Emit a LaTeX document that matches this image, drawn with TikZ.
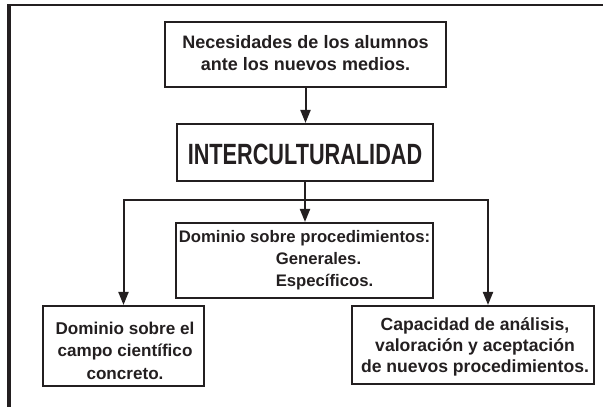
\documentclass[tikz,border=0pt]{standalone}
\usepackage{fontspec}
\usepackage{graphicx}
\setmainfont{Liberation Sans}
\usetikzlibrary{arrows.meta}
\definecolor{ink}{HTML}{231F20}
\begin{document}
\begin{tikzpicture}[x=1pt,y=-1pt,
  box/.style={draw=ink, line width=2.1pt, inner sep=0pt, text=ink},
  arr/.style={draw=ink, line width=2pt, -{Triangle[length=13pt,width=10pt]}},
  frame/.style={draw=ink}]
\useasboundingbox (0,0) rectangle (603,407);
\draw[frame, line width=2.3pt] (7,5.2) -- (603,5.2);
\draw[frame, line width=4pt] (9,4) -- (9,407);

\node[box, minimum width=281pt, text height=26pt, text depth=39pt] (top) at (305.5,54.5)
  {\bfseries\fontsize{18}{22}\selectfont\begin{tabular}[t]{@{}c@{}}Necesidades de los alumnos\\ante los nuevos medios.\end{tabular}};

\node[box, minimum width=256pt, text height=40pt, text depth=17pt] (inter) at (305,152.5)
  {\scalebox{0.74}[1]{\bfseries\fontsize{29.3}{30}\selectfont INTERCULTURALIDAD}};

\node[box, minimum width=257pt, text height=19pt, text depth=56pt] (mid) at (304.5,260.5)
  {\bfseries\fontsize{16.7}{22}\selectfont\begin{tabular}[t]{@{}l@{}}Dominio sobre procedimientos:\\\hspace*{97pt}Generales.\\\hspace*{97pt}Específicos.\end{tabular}};

\node[box, minimum width=161pt, text height=28pt, text depth=52pt] (left) at (123.5,346)
  {\bfseries\fontsize{17.1}{22.5}\selectfont\begin{tabular}[t]{@{\hspace{3pt}}c@{}}Dominio sobre el\\campo científico\\concreto.\end{tabular}};

\node[box, minimum width=242pt, text height=24pt, text depth=54pt] (right) at (473,345)
  {\bfseries\fontsize{17.6}{21}\selectfont\begin{tabular}[t]{@{\hspace{4pt}}c@{}}Capacidad de análisis,\\valoración y aceptación\\de nuevos procedimientos.\end{tabular}};

\draw[arr] (top) -- (top |- inter.north);
\draw[arr] (inter) -- (inter |- mid.north);
\path (inter.south) ++(0,18) coordinate (j);
\draw[arr] (j) -| (left.north);
\draw[arr] (j) -| ([xshift=15pt]right.north);
\end{tikzpicture}
\end{document}
